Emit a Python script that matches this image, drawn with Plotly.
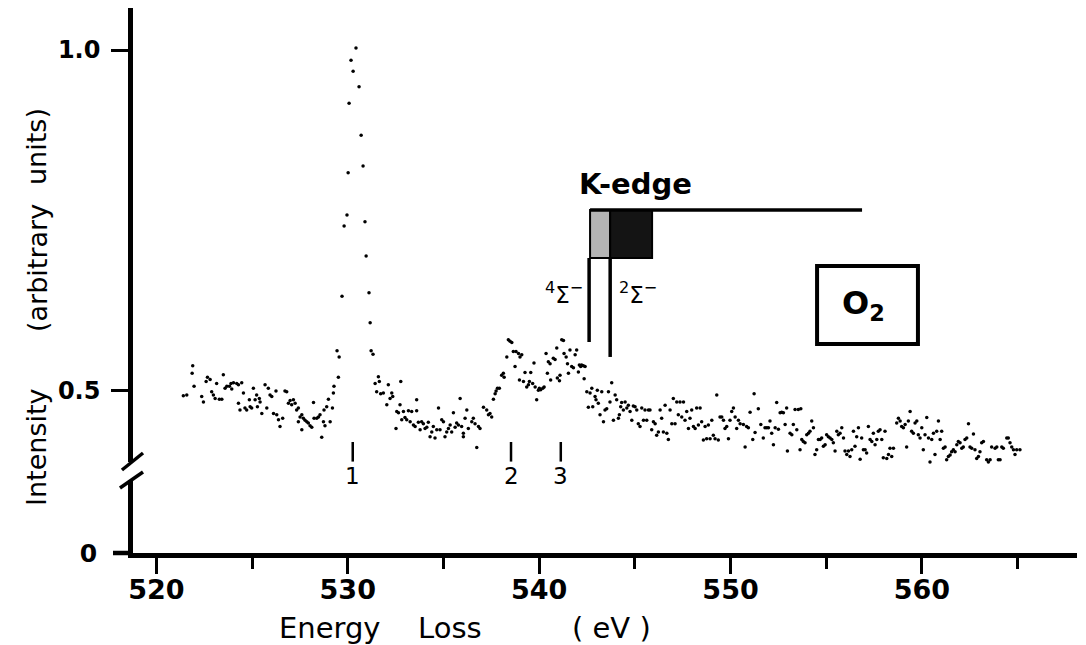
import plotly.graph_objects as go

# ---------------- data (energy loss in eV, intensity in arbitrary units) -------------
pre_edge_ev = [521.41, 521.59, 521.87, 521.90, 521.97, 522.37, 522.46, 522.60, 522.67, 522.81,
               522.89, 522.98, 523.07, 523.15, 523.29, 523.42, 523.50, 523.59, 523.68, 523.82,
               523.90, 523.94, 524.03, 524.20, 524.29, 524.29, 524.37, 524.46, 524.55, 524.63,
               524.72, 524.86, 524.90, 524.98, 525.07, 525.16, 525.24, 525.28, 525.38, 525.42,
               525.51, 525.68, 525.77, 525.85, 525.94, 526.03, 526.12, 526.25, 526.29, 526.38,
               526.46, 526.60, 526.72, 526.81, 526.90, 526.99, 527.07, 527.16, 527.25, 527.33,
               527.42, 527.42, 527.51, 527.60, 527.60, 527.68, 527.77, 527.86, 527.94, 528.03,
               528.12, 528.21, 528.24, 528.38, 528.47, 528.55, 528.64, 528.73, 528.76, 528.81,
               528.90, 528.99, 529.08, 529.20, 529.25, 529.28, 529.51]
pre_edge_int = [0.493, 0.494, 0.526, 0.537, 0.507, 0.492, 0.484, 0.514, 0.520, 0.517,
                0.499, 0.494, 0.489, 0.511, 0.488, 0.488, 0.524, 0.504, 0.507, 0.507,
                0.511, 0.503, 0.512, 0.511, 0.509, 0.482, 0.472, 0.512, 0.497, 0.475,
                0.472, 0.487, 0.477, 0.475, 0.504, 0.487, 0.494, 0.477, 0.489, 0.484,
                0.467, 0.509, 0.475, 0.504, 0.494, 0.492, 0.467, 0.500, 0.465, 0.458,
                0.448, 0.460, 0.500, 0.499, 0.482, 0.486, 0.480, 0.487, 0.482, 0.472,
                0.475, 0.455, 0.462, 0.465, 0.443, 0.460, 0.457, 0.455, 0.453, 0.449,
                0.447, 0.483, 0.460, 0.460, 0.462, 0.465, 0.432, 0.455, 0.472, 0.449,
                0.477, 0.488, 0.455, 0.475, 0.497, 0.507, 0.520]

peak_ev = [529.44, 529.55, 529.70, 529.81, 529.96, 530.02, 530.07, 530.17, 530.28, 530.43,
           530.59, 530.70, 530.80, 530.90, 530.96, 531.11, 531.17, 531.22, 531.32]
peak_int = [0.559, 0.550, 0.639, 0.742, 0.758, 0.820, 0.922, 0.985, 0.969, 1.003,
            0.946, 0.875, 0.830, 0.748, 0.698, 0.644, 0.600, 0.559, 0.554]

post_peak_ev = [531.43, 531.51, 531.60, 531.65, 531.72, 531.86, 532.04, 532.12, 532.21, 532.30,
                532.35, 532.52, 532.56, 532.65, 532.73, 532.77, 532.82, 532.91, 532.99, 533.08,
                533.17, 533.26, 533.34, 533.43, 533.52, 533.60, 533.60, 533.69, 533.78, 533.86,
                533.95, 534.04, 534.13, 534.21, 534.30, 534.39, 534.47, 534.56, 534.65, 534.74,
                534.82, 534.91, 535.00, 535.08, 535.17, 535.26, 535.35, 535.43, 535.52, 535.61,
                535.69, 535.78, 535.87, 535.95, 536.04, 536.04, 536.13, 536.22, 536.30]
post_peak_int = [0.511, 0.499, 0.521, 0.514, 0.496, 0.497, 0.480, 0.509, 0.489, 0.497,
                 0.492, 0.445, 0.470, 0.468, 0.480, 0.514, 0.458, 0.470, 0.461, 0.458,
                 0.471, 0.455, 0.470, 0.450, 0.448, 0.487, 0.471, 0.454, 0.443, 0.455,
                 0.452, 0.445, 0.447, 0.454, 0.433, 0.440, 0.448, 0.431, 0.443, 0.475,
                 0.443, 0.458, 0.455, 0.433, 0.440, 0.445, 0.450, 0.440, 0.468, 0.447,
                 0.453, 0.450, 0.489, 0.448, 0.433, 0.438, 0.460, 0.472, 0.445]

edge_ev = [536.48, 536.56, 536.65, 536.74, 536.83, 536.91, 537.09, 537.26, 537.35, 537.43,
           537.52, 537.61, 537.70, 537.75, 537.82, 537.92, 538.04, 538.13, 538.17, 538.31,
           538.39, 538.48, 538.57, 538.65, 538.74, 538.79, 538.92, 538.97, 539.00, 539.09,
           539.18, 539.26, 539.35, 539.44, 539.49, 539.56, 539.66, 539.73, 539.79, 539.87,
           539.96, 540.01, 540.08, 540.19, 540.26, 540.36, 540.43, 540.48, 540.57, 540.60,
           540.74, 540.83, 540.92, 540.95, 541.06, 541.09, 541.18, 541.27, 541.30, 541.41,
           541.48, 541.53, 541.61, 541.70, 541.79, 541.88, 541.96, 542.05, 542.10, 542.17,
           542.22, 542.31, 542.35, 542.40, 542.49, 542.57, 542.66, 542.75, 542.80, 542.92,
           542.97, 543.04, 543.09, 543.18, 543.27, 543.36, 543.44, 543.53, 543.62, 543.70,
           543.79, 543.88, 543.97, 544.05, 544.14, 544.19, 544.26, 544.31, 544.40, 544.49,
           544.58, 544.66, 544.75, 544.84, 544.92, 545.01, 545.10, 545.18, 545.27, 545.36,
           545.45, 545.53, 545.62, 545.71, 545.79, 545.88, 545.97, 546.06, 546.14, 546.23,
           546.32, 546.40, 546.49, 546.58, 546.67, 546.75, 546.84, 546.93, 547.01, 547.10,
           547.19, 547.27, 547.36, 547.45, 547.54, 547.62, 547.71, 547.80, 547.88, 547.97,
           548.06, 548.15, 548.23, 548.32, 548.41, 548.49, 548.58, 548.67, 548.75, 548.84,
           548.93, 549.02, 549.10, 549.19, 549.28, 549.36, 549.45, 549.54, 549.63, 549.71,
           549.80, 549.89, 549.97, 550.06, 550.15, 550.24, 550.32, 550.41, 550.50]
edge_int = [0.455, 0.460, 0.452, 0.417, 0.448, 0.445, 0.476, 0.472, 0.465, 0.467,
            0.462, 0.488, 0.496, 0.500, 0.504, 0.504, 0.523, 0.526, 0.520, 0.550,
            0.575, 0.573, 0.571, 0.558, 0.536, 0.558, 0.555, 0.516, 0.550, 0.553,
            0.514, 0.527, 0.506, 0.509, 0.514, 0.527, 0.511, 0.541, 0.506, 0.487,
            0.501, 0.504, 0.502, 0.504, 0.506, 0.555, 0.526, 0.543, 0.540, 0.516,
            0.548, 0.546, 0.563, 0.519, 0.515, 0.523, 0.575, 0.574, 0.555, 0.550,
            0.540, 0.526, 0.560, 0.536, 0.534, 0.553, 0.560, 0.528, 0.538, 0.536,
            0.538, 0.537, 0.518, 0.536, 0.499, 0.476, 0.497, 0.504, 0.477, 0.492,
            0.487, 0.501, 0.482, 0.465, 0.499, 0.455, 0.472, 0.474, 0.499, 0.484,
            0.512, 0.457, 0.494, 0.487, 0.460, 0.465, 0.477, 0.483, 0.472, 0.484,
            0.475, 0.479, 0.470, 0.457, 0.478, 0.477, 0.472, 0.452, 0.448, 0.475,
            0.457, 0.472, 0.457, 0.472, 0.472, 0.443, 0.455, 0.452, 0.435, 0.440,
            0.472, 0.460, 0.440, 0.479, 0.438, 0.429, 0.472, 0.452, 0.489, 0.452,
            0.484, 0.465, 0.484, 0.462, 0.484, 0.457, 0.470, 0.445, 0.460, 0.472,
            0.448, 0.445, 0.475, 0.450, 0.475, 0.455, 0.428, 0.448, 0.430, 0.450,
            0.430, 0.457, 0.435, 0.430, 0.494, 0.428, 0.462, 0.462, 0.457, 0.445,
            0.448, 0.430, 0.457, 0.470, 0.475, 0.462, 0.445, 0.457, 0.452]

tail_ev = [550.67, 550.76, 550.84, 550.93, 551.02, 551.16, 551.23, 551.28, 551.45, 551.58,
           551.71, 551.80, 551.89, 551.98, 552.06, 552.15, 552.24, 552.33, 552.41, 552.50,
           552.59, 552.67, 552.76, 552.85, 552.93, 552.97, 553.11, 553.20, 553.28, 553.37,
           553.46, 553.54, 553.63, 553.67, 553.72, 553.80, 553.89, 553.98, 554.07, 554.15,
           554.24, 554.33, 554.41, 554.50, 554.59, 554.68, 554.76, 554.85, 554.94, 555.02,
           555.11, 555.20, 555.29, 555.37, 555.46, 555.55, 555.63, 555.72, 555.81, 555.90,
           555.98, 556.07, 556.16, 556.24, 556.33, 556.42, 556.50, 556.59, 556.68, 556.77,
           556.85, 556.94, 557.03, 557.11, 557.20, 557.29, 557.38, 557.46, 557.55, 557.64,
           557.72, 557.81, 557.90, 557.98, 558.07, 558.16, 558.25, 558.33, 558.42, 558.51,
           558.68, 558.77, 558.86, 558.94, 559.03, 559.12, 559.20, 559.29, 559.38, 559.46,
           559.55, 559.64, 559.73, 559.81, 559.90, 559.99, 560.07, 560.16, 560.25, 560.34,
           560.42, 560.51, 560.60, 560.68, 560.77, 560.86, 560.95, 561.03, 561.12, 561.21,
           561.29, 561.38, 561.47, 561.55, 561.64, 561.73, 561.82, 561.90, 561.99, 562.08,
           562.16, 562.25, 562.34, 562.43, 562.51, 562.60, 562.69, 562.77, 562.86, 562.95,
           563.03, 563.12, 563.21, 563.30, 563.38, 563.47, 563.56, 563.64, 563.73, 563.82,
           563.91, 563.99, 564.08, 564.17, 564.25, 564.43, 564.51, 564.60, 564.69, 564.78,
           564.86, 564.95, 565.12]
tail_int = [0.451, 0.418, 0.448, 0.446, 0.469, 0.429, 0.496, 0.439, 0.474, 0.451,
            0.431, 0.446, 0.446, 0.446, 0.456, 0.438, 0.421, 0.446, 0.483, 0.444,
            0.468, 0.469, 0.468, 0.451, 0.475, 0.412, 0.438, 0.436, 0.451, 0.473,
            0.443, 0.473, 0.414, 0.474, 0.429, 0.426, 0.424, 0.436, 0.438, 0.441,
            0.456, 0.446, 0.407, 0.414, 0.429, 0.429, 0.431, 0.419, 0.421, 0.436,
            0.433, 0.431, 0.429, 0.424, 0.412, 0.441, 0.436, 0.438, 0.446, 0.431,
            0.412, 0.407, 0.412, 0.404, 0.414, 0.441, 0.419, 0.433, 0.446, 0.400,
            0.431, 0.414, 0.414, 0.409, 0.448, 0.429, 0.426, 0.438, 0.421, 0.429,
            0.441, 0.443, 0.429, 0.402, 0.441, 0.401, 0.407, 0.416, 0.404, 0.416,
            0.453, 0.460, 0.456, 0.448, 0.446, 0.451, 0.418, 0.456, 0.470, 0.441,
            0.438, 0.453, 0.456, 0.436, 0.431, 0.446, 0.414, 0.436, 0.461, 0.431,
            0.396, 0.429, 0.438, 0.407, 0.441, 0.456, 0.429, 0.441, 0.416, 0.418,
            0.399, 0.404, 0.406, 0.411, 0.414, 0.411, 0.421, 0.426, 0.424, 0.416,
            0.418, 0.429, 0.431, 0.452, 0.418, 0.416, 0.437, 0.414, 0.401, 0.404,
            0.411, 0.424, 0.426, 0.392, 0.399, 0.396, 0.399, 0.418, 0.384, 0.416,
            0.418, 0.399, 0.399, 0.418, 0.416, 0.431, 0.431, 0.424, 0.418, 0.414,
            0.407, 0.414, 0.414]

# features marked under the spectrum
feature_ev = [530.26, 538.53, 541.13]
feature_labels = ["1", "2", "3"]

# K-edge ionisation thresholds (4Sigma-, 2Sigma-)
kedge_ev = [542.61, 543.71]

x_major_ticks = [520, 530, 540, 550, 560]
x_minor_ticks = [525, 535, 545, 555, 565]
y_ticks_upper = [0.5, 1.0]
y_ticklabels_upper = ["0.5", "1.0"]

energy = pre_edge_ev + peak_ev + post_peak_ev + edge_ev + tail_ev
intensity = pre_edge_int + peak_int + post_peak_int + edge_int + tail_int

# ---------------- figure -------------------------------------------------------------
FONT = "DejaVu Sans"
fig = go.Figure()
# empty trace so that the lower (broken) y axis forms a subplot with the x axis
fig.add_trace(go.Scatter(x=[], y=[], xaxis="x", yaxis="y", mode="markers",
                         showlegend=False, hoverinfo="skip"))
fig.add_trace(go.Scatter(
    x=energy, y=intensity, xaxis="x", yaxis="y2", mode="markers",
    marker=dict(size=3.5, color="black", line=dict(width=0)),
    cliponaxis=False, hoverinfo="x+y", showlegend=False))

axis_common = dict(showgrid=False, zeroline=False, showline=True, linecolor="black",
                   linewidth=4.5, automargin=False)
tick_font = dict(family=FONT, size=27, color="black", weight="bold")

fig.update_layout(
    width=1086, height=645,
    margin=dict(l=133, r=9, t=8, b=92),
    paper_bgcolor="white", plot_bgcolor="white", showlegend=False,
    xaxis=dict(domain=[0, 1], range=[518.78, 568.10], anchor="y",
               ticks="outside", ticklen=16, tickwidth=3, tickcolor="black",
               tickvals=x_major_ticks, ticktext=[str(v) for v in x_major_ticks],
               tickfont=tick_font, ticklabelstandoff=-7,
               minor=dict(tickvals=x_minor_ticks, ticks="outside", ticklen=11,
                          tickwidth=3, tickcolor="black", showgrid=False),
               **axis_common),
    yaxis=dict(domain=[0, 0.134], range=[0, 0.1], anchor="x",
               ticks="", tickvals=[0], ticktext=["0"], ticklabelstandoff=26,
               tickfont=dict(family=FONT, size=25, color="black", weight="bold"), **axis_common),
    yaxis2=dict(domain=[0.167, 1], range=[0.3959, 1.0616], anchor="x",
                ticks="outside", ticklen=17, tickwidth=3, tickcolor="black",
                tickvals=y_ticks_upper, ticktext=y_ticklabels_upper, ticklabelstandoff=6,
                tickfont=dict(family=FONT, size=24, color="black", weight="bold"), **axis_common),
)

shapes = []
# x axis line continues a little to the left of the y axis
shapes.append(dict(type="line", xref="paper", yref="paper", x0=-0.0212, x1=0, y0=0, y1=0,
                   line=dict(color="black", width=4.5)))
# axis break marks
for (x0, y0, x1, y1) in [(-0.0117, 0.1523, 0.0106, 0.1835), (-0.0138, 0.1193, 0.0106, 0.1486)]:
    shapes.append(dict(type="line", xref="paper", yref="paper", x0=x0, y0=y0, x1=x1, y1=y1,
                       line=dict(color="black", width=3.5)))
# feature marks 1,2,3
for ev in feature_ev:
    shapes.append(dict(type="line", xref="x", yref="y2", x0=ev, x1=ev, y0=0.3965, y1=0.4252,
                       line=dict(color="black", width=2.5)))
# K-edge box: light part, dark part, horizontal line, verticals
shapes.append(dict(type="rect", xref="x", yref="y2", x0=542.66, x1=543.71, y0=0.695, y1=0.7654,
                   fillcolor="#b4b4b4", line=dict(color="black", width=2)))
shapes.append(dict(type="rect", xref="x", yref="y2", x0=543.71, x1=545.90, y0=0.695, y1=0.7654,
                   fillcolor="#141414", line=dict(color="black", width=2)))
shapes.append(dict(type="line", xref="x", yref="y2", x0=542.66, x1=556.87, y0=0.7654, y1=0.7654,
                   line=dict(color="black", width=3.5)))
shapes.append(dict(type="line", xref="x", yref="y2", x0=kedge_ev[0], x1=kedge_ev[0], y0=0.695, y1=0.5718,
                   line=dict(color="black", width=3.5)))
shapes.append(dict(type="line", xref="x", yref="y2", x0=kedge_ev[1], x1=kedge_ev[1], y0=0.695, y1=0.5499,
                   line=dict(color="black", width=3.5)))
# O2 box
shapes.append(dict(type="rect", xref="x", yref="y2", x0=554.52, x1=559.79, y0=0.5689, y1=0.6833,
                   fillcolor="white", line=dict(color="black", width=4)))
fig.update_layout(shapes=shapes)

ann = []
def text(x, y, s, size, xref="paper", yref="paper", xanchor="center", yanchor="middle",
         angle=0, bold=False):
    ann.append(dict(x=x, y=y, xref=xref, yref=yref, text=("<b>%s</b>" % s) if bold else s,
                    showarrow=False, xanchor=xanchor, yanchor=yanchor, textangle=angle,
                    font=dict(family=FONT, size=size, color="black")))

# axis titles
text(0.2087, -0.1375, "Energy", 29)
text(0.3358, -0.1375, "Loss", 29)
text(0.5064, -0.1375, "( eV )", 29)
text(-0.1017, 0.1945, "Intensity", 27, angle=-90)
text(-0.1017, 0.5229, "(arbitrary", 27, angle=-90)
text(-0.1017, 0.7468, "units)", 27, angle=-90)
# feature numbers
for ev, lab in zip(feature_ev, feature_labels):
    text(ev, 0.1413, lab, 23, xref="x")
# K-edge labels
text(545.01, 0.8035, "K-edge", 29, xref="x", yref="y2", bold=True)
text(542.42, 0.6437, "<sup>4</sup>Σ<sup>−</sup>", 23, xref="x", yref="y2", xanchor="right")
text(544.05, 0.6437, "<sup>2</sup>Σ<sup>−</sup>", 23, xref="x", yref="y2", xanchor="left")
text(556.92, 0.6261, "O<sub>2</sub>", 32, xref="x", yref="y2", bold=True)
fig.update_layout(annotations=ann)

fig.write_html("out.html")
